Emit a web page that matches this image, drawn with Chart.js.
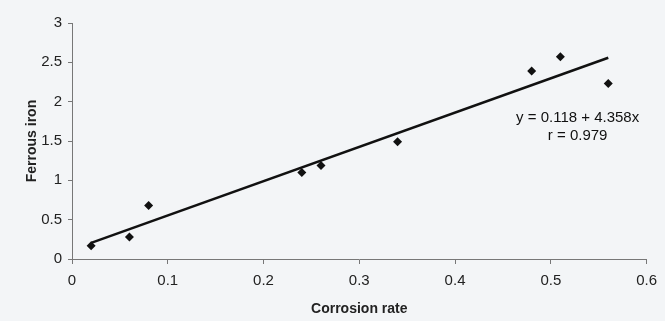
<!DOCTYPE html>
<html>
<head>
<meta charset="utf-8">
<script src="https://cdn.jsdelivr.net/npm/chart.js@4/dist/chart.umd.min.js"></script>
<style>
    html, body { margin: 0; padding: 0; background: #f3f5f7; }
    #wrap { width: 665px; height: 321px; }
</style>
</head>
<body>
<div id="wrap"><canvas id="chart" width="665" height="321"></canvas></div>
<script>
//=================================================
//Data
//=================================================
const corrosionRate = [0.02, 0.06, 0.08, 0.24, 0.26, 0.34, 0.48, 0.51, 0.56];
const ferrousIron = [0.17, 0.28, 0.68, 1.1, 1.19, 1.49, 2.39, 2.57, 2.23];
const intercept = 0.118;
const slope = 4.358;
const rValue = 0.979;
const equationLines = ["y = " + intercept + " + " + slope + "x", "r = " + rValue];
const equationAt = { x: 0.528, y: 1.8 };

//=================================================
//Chart.js
//=================================================
const points = corrosionRate.map((x, i) => ({ x: x, y: ferrousIron[i] }));
const xMin = Math.min(...corrosionRate);
const xMax = Math.max(...corrosionRate);
const trend = [xMin, xMax].map((x) => ({ x: x, y: intercept + slope * x }));

const FONT = "'Liberation Sans', Arial, sans-serif";
const AXIS = "#777";

const background = {
    id: "background",
    beforeDraw: (chart) => {
        const ctx = chart.ctx;
        ctx.save();
        ctx.fillStyle = "#f3f5f7";
        ctx.fillRect(0, 0, chart.width, chart.height);
        ctx.restore();
    },
};

const equation = {
    id: "equation",
    afterDatasetsDraw: (chart) => {
        const ctx = chart.ctx;
        const x = chart.scales.x.getPixelForValue(equationAt.x);
        const y = chart.scales.y.getPixelForValue(equationAt.y);
        ctx.save();
        ctx.fillStyle = "#111";
        ctx.font = "15px " + FONT;
        ctx.textAlign = "center";
        ctx.textBaseline = "middle";
        equationLines.forEach((line, i) => ctx.fillText(line, x, y + i * 18));
        ctx.restore();
    },
};

new Chart(document.getElementById("chart"), {
    type: "scatter",
    data: {
        datasets: [
            {
                data: points,
                pointStyle: "rectRot",
                pointRadius: 4.5,
                backgroundColor: "#111",
                borderColor: "#111",
                borderWidth: 0,
            },
            {
                data: trend,
                showLine: true,
                borderColor: "#111",
                borderWidth: 2.5,
                pointRadius: 0,
            },
        ],
    },
    options: {
        responsive: false,
        animation: false,
        layout: { padding: { top: 23, right: 18, left: 0, bottom: 0 } },
        plugins: { legend: { display: false }, tooltip: { enabled: false } },
        scales: {
            x: {
                type: "linear",
                min: 0,
                max: 0.6,
                afterFit: (scale) => { scale.height = 62; },
                border: { display: true, color: AXIS, width: 1 },
                grid: { drawOnChartArea: false, drawTicks: true, tickLength: 5, color: AXIS },
                ticks: {
                    stepSize: 0.1,
                    padding: 8,
                    color: "#222",
                    font: { size: 15, family: FONT },
                    callback: (v) => +v.toFixed(1),
                },
                title: {
                    display: true,
                    text: "Corrosion rate",
                    color: "#222",
                    font: { size: 14, weight: "bold", family: FONT },
                    padding: { top: 0, bottom: 3 },
                },
            },
            y: {
                min: 0,
                max: 3,
                afterFit: (scale) => { scale.width = 72; },
                border: { display: true, color: AXIS, width: 1 },
                grid: { drawOnChartArea: false, drawTicks: true, tickLength: 4, color: AXIS },
                ticks: {
                    stepSize: 0.5,
                    padding: 6,
                    color: "#222",
                    font: { size: 15, family: FONT },
                    callback: (v) => +v.toFixed(1),
                },
                title: {
                    display: true,
                    text: "Ferrous iron",
                    color: "#222",
                    font: { size: 14, weight: "bold", family: FONT },
                    padding: { top: 24, bottom: 0 },
                },
            },
        },
    },
    plugins: [background, equation],
});
</script>
</body>
</html>
